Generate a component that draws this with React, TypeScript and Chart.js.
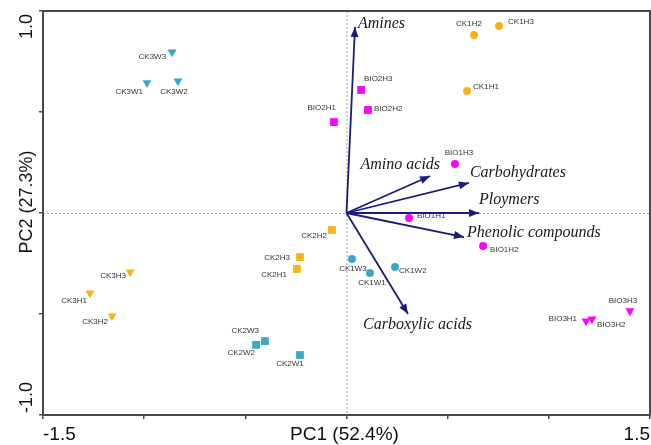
import React, { useEffect, useRef } from "react";
import { Chart, registerables } from "chart.js";

Chart.register(...registerables);

// ---------------- data ----------------
const ck1hNames = ["CK1H1", "CK1H2", "CK1H3"];
const ck1hX = [0.596, 0.63, 0.754];
const ck1hY = [0.604, 0.881, 0.926];

const ck2hNames = ["CK2H1", "CK2H2", "CK2H3"];
const ck2hX = [-0.245, -0.072, -0.23];
const ck2hY = [-0.277, -0.084, -0.218];

const ck3hNames = ["CK3H1", "CK3H2", "CK3H3"];
const ck3hX = [-1.268, -1.159, -1.07];
const ck3hY = [-0.396, -0.51, -0.292];

const ck1wNames = ["CK1W1", "CK1W2", "CK1W3"];
const ck1wX = [0.116, 0.24, 0.027];
const ck1wY = [-0.297, -0.267, -0.228];

const ck2wNames = ["CK2W1", "CK2W2", "CK2W3"];
const ck2wX = [-0.23, -0.447, -0.403];
const ck2wY = [-0.703, -0.653, -0.634];

const ck3wNames = ["CK3W1", "CK3W2", "CK3W3"];
const ck3wX = [-0.986, -0.833, -0.862];
const ck3wY = [0.644, 0.653, 0.797];

const bio1hNames = ["BIO1H1", "BIO1H2", "BIO1H3"];
const bio1hX = [0.309, 0.675, 0.536];
const bio1hY = [-0.025, -0.163, 0.243];

const bio2hNames = ["BIO2H1", "BIO2H2", "BIO2H3"];
const bio2hX = [-0.062, 0.106, 0.072];
const bio2hY = [0.45, 0.51, 0.609];

const bio3hNames = ["BIO3H1", "BIO3H2", "BIO3H3"];
const bio3hX = [1.184, 1.213, 1.401];
const bio3hY = [-0.535, -0.525, -0.485];

const vectorNames = ["Amines", "Amino acids", "Carbohydrates", "Ploymers", "Phenolic compounds", "Carboxylic acids"];
const vectorX = [0.042, 0.413, 0.605, 0.655, 0.581, 0.304];
const vectorY = [0.921, 0.183, 0.149, 0.0, -0.119, -0.5];

const xRange = [-1.5, 1.5];
const yRange = [-1.0, 1.0];
const xTickLabels = ["-1.5", "1.5"];
const yTickLabels = ["-1.0", "1.0"];
const xTitle = "PC1 (52.4%)";
const yTitle = "PC2 (27.3%)";

// ---------------- styles ----------------
const ORANGE = "#F7B415";
const TEAL = "#3AA8C5";
const MAGENTA = "#FF00FF";
const NAVY = "#1B1B7E";

type Shape = "circle" | "rect" | "triangle";
const groups: { names: string[]; xs: number[]; ys: number[]; color: string; shape: Shape }[] = [
  { names: ck1hNames, xs: ck1hX, ys: ck1hY, color: ORANGE, shape: "circle" },
  { names: ck2hNames, xs: ck2hX, ys: ck2hY, color: ORANGE, shape: "rect" },
  { names: ck3hNames, xs: ck3hX, ys: ck3hY, color: ORANGE, shape: "triangle" },
  { names: ck1wNames, xs: ck1wX, ys: ck1wY, color: TEAL, shape: "circle" },
  { names: ck2wNames, xs: ck2wX, ys: ck2wY, color: TEAL, shape: "rect" },
  { names: ck3wNames, xs: ck3wX, ys: ck3wY, color: TEAL, shape: "triangle" },
  { names: bio1hNames, xs: bio1hX, ys: bio1hY, color: MAGENTA, shape: "circle" },
  { names: bio2hNames, xs: bio2hX, ys: bio2hY, color: MAGENTA, shape: "rect" },
  { names: bio3hNames, xs: bio3hX, ys: bio3hY, color: MAGENTA, shape: "triangle" },
];

// label placement: [dx px, dy px, align]
const labelPlace: Record<string, [number, number, CanvasTextAlign]> = {
  CK3W3: [-6, 5, "right"], CK3W1: [-4, 9, "right"], CK3W2: [-4, 11, "center"],
  CK1H2: [-5, -11, "center"], CK1H3: [9, -4, "left"], CK1H1: [6, -4, "left"],
  BIO2H3: [3, -11, "left"], BIO2H2: [6, -1, "left"], BIO2H1: [2, -14, "right"],
  BIO1H3: [4, -11, "center"], BIO1H1: [8, -2, "left"], BIO1H2: [7, 4, "left"],
  CK2H2: [-5, 6, "right"], CK2H3: [-10, 1, "right"], CK2H1: [-10, 6, "right"],
  CK3H3: [-4, 4, "right"], CK3H1: [-3, 8, "right"], CK3H2: [-4, 6, "right"],
  CK2W3: [-6, -10, "right"], CK2W2: [-1, 8, "right"], CK2W1: [-10, 9, "center"],
  CK1W3: [1, 10, "center"], CK1W1: [2, 10, "center"], CK1W2: [4, 4, "left"],
  BIO3H3: [-7, -10, "center"], BIO3H1: [-9, -2, "right"], BIO3H2: [5, 6, "left"],
};

const vecLabelPlace: Record<string, [number, number, CanvasTextAlign]> = {
  Amines: [3, -3, "left"],
  "Amino acids": [10, -11, "right"],
  Carbohydrates: [1, -10, "left"],
  Ploymers: [0, -13, "left"],
  "Phenolic compounds": [3, -4, "left"],
  "Carboxylic acids": [-45, 11, "left"],
};

const SANS = "Arial, 'Liberation Sans', sans-serif";
const SERIF = "'Times New Roman', 'Liberation Serif', serif";

const decorPlugin = {
  id: "decor",
  beforeDatasetsDraw(chart: any) {
    const { ctx, chartArea: a, scales } = chart;
    const x0 = scales.x.getPixelForValue(0);
    const y0 = scales.y.getPixelForValue(0);
    ctx.save();
    ctx.strokeStyle = "#8a8a8a";
    ctx.lineWidth = 0.8;
    ctx.setLineDash([2, 2]);
    ctx.beginPath();
    ctx.moveTo(a.left, y0 + 0.5);
    ctx.lineTo(a.right, y0 + 0.5);
    ctx.moveTo(x0 + 0.5, a.top);
    ctx.lineTo(x0 + 0.5, a.bottom);
    ctx.stroke();
    ctx.restore();
  },
  afterDatasetsDraw(chart: any) {
    const { ctx, scales } = chart;
    const sx = scales.x, sy = scales.y;
    ctx.save();
    const ox = sx.getPixelForValue(0), oy = sy.getPixelForValue(0);
    vectorNames.forEach((name, i) => {
      const tx = sx.getPixelForValue(vectorX[i]);
      const ty = sy.getPixelForValue(vectorY[i]);
      const ang = Math.atan2(ty - oy, tx - ox);
      const L = 10, W = 4;
      const bx = tx - L * Math.cos(ang), by = ty - L * Math.sin(ang);
      ctx.fillStyle = NAVY;
      ctx.beginPath();
      ctx.moveTo(tx, ty);
      ctx.lineTo(bx + W * Math.sin(ang), by - W * Math.cos(ang));
      ctx.lineTo(bx - W * Math.sin(ang), by + W * Math.cos(ang));
      ctx.closePath();
      ctx.fill();
      const [dx, dy, al] = vecLabelPlace[name];
      ctx.font = `italic 16px ${SERIF}`;
      ctx.fillStyle = "#1a1a1a";
      ctx.textAlign = al;
      ctx.textBaseline = "middle";
      ctx.fillText(name, tx + dx, ty + dy);
    });
    ctx.font = `8px ${SANS}`;
    ctx.fillStyle = "#333";
    ctx.textBaseline = "middle";
    groups.forEach((g) => {
      g.names.forEach((n, i) => {
        const px = sx.getPixelForValue(g.xs[i]);
        const py = sy.getPixelForValue(g.ys[i]);
        const [dx, dy, al] = labelPlace[n];
        ctx.textAlign = al;
        ctx.fillText(n, px + dx, py + dy);
      });
    });
    ctx.restore();
  },
  afterDraw(chart: any) {
    const { ctx, chartArea: a } = chart;
    ctx.save();
    ctx.strokeStyle = "#4a4a4a";
    ctx.lineWidth = 2;
    ctx.strokeRect(a.left, a.top, a.right - a.left, a.bottom - a.top);
    ctx.fillStyle = "#111";
    ctx.font = `19px ${SANS}`;
    ctx.textBaseline = "alphabetic";
    const base = a.bottom + 25;
    ctx.textAlign = "left";
    ctx.fillText(xTickLabels[0], a.left, base);
    ctx.textAlign = "right";
    ctx.fillText(xTickLabels[1], a.right, base);
    ctx.textAlign = "center";
    ctx.fillText(xTitle, (a.left + a.right) / 2 - 2, base);
    ctx.font = `18px ${SANS}`;
    const cx = 32;
    const drawRot = (t: string, y: number, al: CanvasTextAlign) => {
      ctx.save();
      ctx.translate(cx, y);
      ctx.rotate(-Math.PI / 2);
      ctx.textAlign = al;
      ctx.fillText(t, 0, 0);
      ctx.restore();
    };
    drawRot(yTickLabels[1], a.top + 3, "right");
    drawRot(yTickLabels[0], a.bottom - 2, "left");
    drawRot(yTitle, (a.top + a.bottom) / 2 - 11, "center");
    ctx.restore();
  },
};

export default function App() {
  const ref = useRef<HTMLCanvasElement | null>(null);
  useEffect(() => {
    if (!ref.current) return;
    const pointDatasets = groups.map((g) => ({
      data: g.xs.map((x, i) => ({ x, y: g.ys[i] })),
      backgroundColor: g.color,
      borderColor: g.color,
      borderWidth: 0,
      pointStyle: g.shape,
      pointRadius: g.shape === "circle" ? 4 : g.shape === "rect" ? 5.5 : 5.2,
      pointRotation: g.shape === "triangle" ? 180 : 0,
      showLine: false,
      order: 1,
    }));
    const vectorDatasets = vectorNames.map((n, i) => ({
      label: n,
      data: [
        { x: 0, y: 0 },
        { x: vectorX[i], y: vectorY[i] },
      ],
      showLine: true,
      borderColor: NAVY,
      borderWidth: 1.8,
      pointRadius: 0,
      fill: false,
      order: 2,
    }));
    const chart = new Chart(ref.current, {
      type: "scatter",
      data: { datasets: [...vectorDatasets, ...pointDatasets] as any },
      options: {
        animation: false,
        responsive: false,
        events: [],
        layout: { autoPadding: false, padding: { left: 39, top: 11, right: 1, bottom: 26 } },
        plugins: { legend: { display: false }, tooltip: { enabled: false } },
        scales: {
          x: {
            type: "linear",
            min: xRange[0],
            max: xRange[1],
            ticks: { display: false, stepSize: 0.5 },
            grid: { drawOnChartArea: false, drawTicks: true, tickLength: 4, color: "#4a4a4a", lineWidth: 1.5 },
            border: { display: true, color: "#4a4a4a", width: 2 },
          },
          y: {
            type: "linear",
            min: yRange[0],
            max: yRange[1],
            ticks: { display: false, stepSize: 0.5 },
            grid: { drawOnChartArea: false, drawTicks: true, tickLength: 4, color: "#4a4a4a", lineWidth: 1.5 },
            border: { display: true, color: "#4a4a4a", width: 2 },
          },
        },
      } as any,
      plugins: [decorPlugin],
    });
    return () => chart.destroy();
  }, []);
  return (
    <div style={{ position: "fixed", left: 0, top: 0, width: 651, height: 445, background: "#fff" }}>
      <canvas ref={ref} width={651} height={445} style={{ display: "block" }} />
    </div>
  );
}
